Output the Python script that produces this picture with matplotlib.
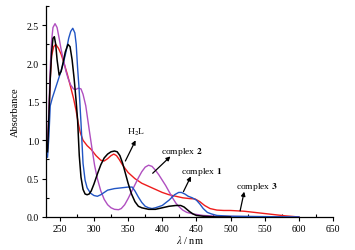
import matplotlib
matplotlib.use("Agg")
from matplotlib import pyplot as plt
from matplotlib.ticker import MultipleLocator

plt.rcParams['font.family'] = ['Liberation Serif', 'DejaVu Serif']
plt.rcParams['mathtext.fontset'] = 'stix'

# H2L (black)
wl_h2l = [232, 234, 236, 238, 240, 242, 244, 246, 249, 252, 255, 258, 262, 265, 268, 271, 274, 276, 278.5,
          281, 284, 287, 290, 293, 296, 300, 305, 310, 315, 320, 325, 330, 334, 338, 342, 346, 350, 355,
          360, 365, 370, 375, 380, 390, 400, 410, 420, 427, 432, 436, 440, 445, 450, 460, 480, 500]
abs_h2l = [0.85, 1.3, 1.8, 2.15, 2.33, 2.35, 2.25, 2.05, 1.85, 1.9, 2.02, 2.15, 2.25, 2.22, 2.05, 1.8, 1.5, 1.27, 0.8,
           0.52, 0.36, 0.3, 0.29, 0.3, 0.34, 0.43, 0.56, 0.68, 0.77, 0.82, 0.85, 0.86, 0.85, 0.8, 0.7, 0.57, 0.44, 0.3,
           0.2, 0.14, 0.12, 0.11, 0.1, 0.1, 0.12, 0.14, 0.15, 0.15, 0.13, 0.1, 0.07, 0.04, 0.02, 0.01, 0.0, 0.0]

# complex 1 (blue)
wl_c1 = [232, 234, 236, 239, 243, 247, 251, 255, 259, 263, 266, 269, 272, 274, 276, 278, 281, 284, 287, 290,
         295, 300, 305, 310, 315, 320, 325, 330, 340, 350, 356, 360, 365, 370, 375, 380, 385, 390, 400,
         410, 418, 424, 428, 433, 438, 444, 450, 455, 460, 466, 472, 480, 500, 550, 600]
abs_c1 = [0.78, 1.05, 1.45, 1.55, 1.66, 1.77, 1.88, 2.0, 2.15, 2.33, 2.42, 2.46, 2.4, 2.25, 1.95, 1.7, 1.23, 0.7, 0.48, 0.38,
          0.31, 0.28, 0.27, 0.29, 0.32, 0.35, 0.36, 0.37, 0.38, 0.39, 0.39, 0.34, 0.26, 0.19, 0.14, 0.12, 0.11, 0.12, 0.15,
          0.22, 0.29, 0.32, 0.32, 0.3, 0.27, 0.25, 0.22, 0.17, 0.11, 0.06, 0.04, 0.02, 0.01, 0.005, 0.0]

# complex 2 (purple)
wl_c2 = [232, 234, 236, 238, 240, 243, 246, 249, 252, 256, 259, 262, 266, 270, 273, 277, 281, 284, 288, 293,
         297, 301, 305, 310, 315, 320, 325, 330, 336, 340, 345, 350, 355, 360, 365, 370, 375, 380, 385, 390,
         395, 400, 405, 410, 415, 420, 425, 430, 436, 445, 460, 480, 520, 600]
abs_c2 = [0.9, 1.4, 1.95, 2.3, 2.47, 2.52, 2.47, 2.33, 2.18, 2.02, 1.9, 1.81, 1.72, 1.67, 1.66, 1.68, 1.67, 1.6, 1.45, 1.14,
          0.9, 0.67, 0.5, 0.34, 0.23, 0.16, 0.12, 0.1, 0.095, 0.11, 0.16, 0.24, 0.33, 0.42, 0.51, 0.59, 0.65, 0.675, 0.66, 0.61,
          0.55, 0.48, 0.41, 0.33, 0.25, 0.18, 0.13, 0.09, 0.06, 0.04, 0.02, 0.01, 0.005, 0.0]

# complex 3 (red)
wl_c3 = [232, 234, 236, 238, 241, 244, 248, 252, 256, 261, 266, 270, 274, 277, 280, 284, 290, 296, 303, 310,
         315, 320, 325, 329, 333, 337, 341, 345, 350, 355, 360, 370, 380, 390, 400, 410, 420, 430, 440, 448,
         455, 462, 470, 480, 490, 500, 510, 520, 530, 540, 550, 560, 570, 580, 590, 600]
abs_c3 = [0.9, 1.3, 1.8, 2.1, 2.22, 2.25, 2.2, 2.12, 2.01, 1.86, 1.69, 1.55, 1.38, 1.22, 1.1, 1.0, 0.93, 0.88, 0.8, 0.74,
          0.73, 0.76, 0.8, 0.82, 0.8, 0.75, 0.69, 0.64, 0.58, 0.54, 0.5, 0.44, 0.4, 0.36, 0.32, 0.29, 0.27, 0.25, 0.24, 0.235,
          0.2, 0.15, 0.11, 0.09, 0.085, 0.085, 0.08, 0.075, 0.065, 0.055, 0.045, 0.035, 0.025, 0.015, 0.008, 0.0]

fig = plt.figure(figsize=(3.55, 2.51), dpi=100)
ax = fig.add_axes([0.13, 0.1315, 0.808, 0.8405])

ax.plot(wl_c3, abs_c3, color='#ee1c1c', lw=1.0)
ax.plot(wl_c2, abs_c2, color='#b04fc0', lw=1.0)
ax.plot(wl_c1, abs_c1, color='#2155c4', lw=1.0)
ax.plot(wl_h2l, abs_h2l, color='black', lw=1.1)

arrow = dict(arrowstyle='-|>', color='black', lw=0.9, mutation_scale=6, shrinkA=0, shrinkB=0)
fs = 6.8
ax.annotate('', xy=(361, 1.0), xytext=(346, 0.73), arrowprops=arrow)
ax.text(361, 1.11, 'H$_2$L', fontsize=fs, ha='center', va='center')
ax.annotate('', xy=(412, 0.79), xytext=(386, 0.57), arrowprops=arrow)
ax.text(428, 0.86, 'complex $\\mathbf{2}$', fontsize=fs, ha='center', va='center')
ax.annotate('', xy=(442, 0.53), xytext=(431, 0.33), arrowprops=arrow)
ax.text(457, 0.6, 'complex $\\mathbf{1}$', fontsize=fs, ha='center', va='center')
ax.annotate('', xy=(520, 0.33), xytext=(514, 0.08), arrowprops=arrow)
ax.text(538, 0.4, 'complex $\\mathbf{3}$', fontsize=fs, ha='center', va='center')

ax.set_xlim(230, 650)
ax.set_ylim(0, 2.75)
ax.xaxis.set_major_locator(MultipleLocator(50))
ax.xaxis.set_minor_locator(MultipleLocator(25))
ax.yaxis.set_major_locator(MultipleLocator(0.5))
ax.yaxis.set_minor_locator(MultipleLocator(0.25))
ax.tick_params(which='major', direction='out', length=3, width=0.8, labelsize=7, pad=2)
ax.tick_params(which='minor', direction='in', length=2, width=0.8)
ax.set_yticks([0, 0.5, 1.0, 1.5, 2.0, 2.5])
ax.set_yticklabels(['0.0', '0.5', '1.0', '1.5', '2.0', '2.5'])
for s in ['top', 'right']:
    ax.spines[s].set_visible(False)
for s in ['left', 'bottom']:
    ax.spines[s].set_linewidth(0.9)

ax.set_xlabel('$\\lambda$ / nm', fontsize=7.5, labelpad=0)
ax.set_ylabel('Absorbance', fontsize=7.5, labelpad=5)

fig.savefig('out.png', dpi=100)
